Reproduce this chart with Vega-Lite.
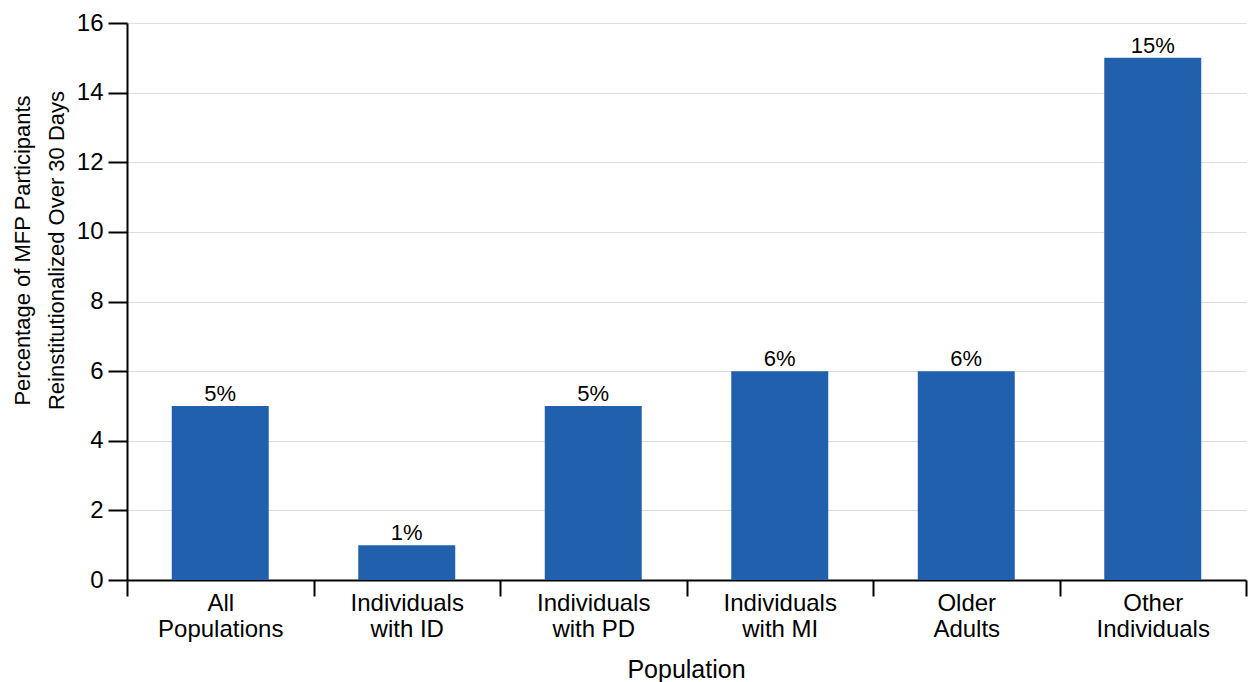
{
  "$schema": "https://vega.github.io/schema/vega-lite/v6.json",
  "width": 1119,
  "height": 557,
  "autosize": {"type": "none"},
  "padding": {"left": 127, "top": 23, "right": 2, "bottom": 102},
  "background": "white",
  "config": {
    "font": "Liberation Sans",
    "view": {"stroke": null}
  },
  "data": {
    "values": [
      {"population": "All Populations", "pct": 5, "label": "5%"},
      {"population": "Individuals with ID", "pct": 1, "label": "1%"},
      {"population": "Individuals with PD", "pct": 5, "label": "5%"},
      {"population": "Individuals with MI", "pct": 6, "label": "6%"},
      {"population": "Older Adults", "pct": 6, "label": "6%"},
      {"population": "Other Individuals", "pct": 15, "label": "15%"}
    ]
  },
  "layer": [
    {
      "mark": {"type": "bar", "color": "#2160ad", "width": {"band": 0.52}},
      "encoding": {
        "x": {
          "field": "population",
          "type": "nominal",
          "sort": null,
          "scale": {"paddingInner": 0, "paddingOuter": 0},
          "axis": {
            "title": "Population",
            "titleFontSize": 25,
            "titleFontWeight": "normal",
            "titleColor": "black",
            "titleX": 559,
            "titleY": 77,
            "titleBaseline": "top",
            "labelAngle": 0,
            "labelFontSize": 24,
            "labelColor": "black",
            "labelLineHeight": 26,
            "labelPadding": -5,
            "labelExpr": "split(replace(datum.label, ' ', '|'), '|')",
            "tickBand": "extent",
            "tickSize": 16,
            "tickWidth": 2,
            "tickColor": "black",
            "domainColor": "black",
            "domainWidth": 2,
            "grid": false
          }
        },
        "y": {
          "field": "pct",
          "type": "quantitative",
          "scale": {"domain": [0, 16]},
          "axis": {
            "title": ["Percentage of MFP Participants", "Reinstitutionalized Over 30 Days"],
            "titleFontSize": 22,
            "titleFontWeight": "normal",
            "titleColor": "black",
            "titleLineHeight": 34,
            "titleX": -93,
            "titleY": 227,
            "values": [0, 2, 4, 6, 8, 10, 12, 14, 16],
            "labelFontSize": 24,
            "labelColor": "black",
            "labelPadding": 5,
            "tickSize": 19,
            "tickWidth": 2,
            "tickColor": "black",
            "domainColor": "black",
            "domainWidth": 2,
            "gridColor": "#dddddd",
            "gridWidth": 1
          }
        }
      }
    },
    {
      "mark": {"type": "text", "baseline": "alphabetic", "dy": -5, "fontSize": 22, "color": "black"},
      "encoding": {
        "x": {"field": "population", "type": "nominal", "sort": null},
        "y": {"field": "pct", "type": "quantitative"},
        "text": {"field": "label"}
      }
    }
  ]
}
